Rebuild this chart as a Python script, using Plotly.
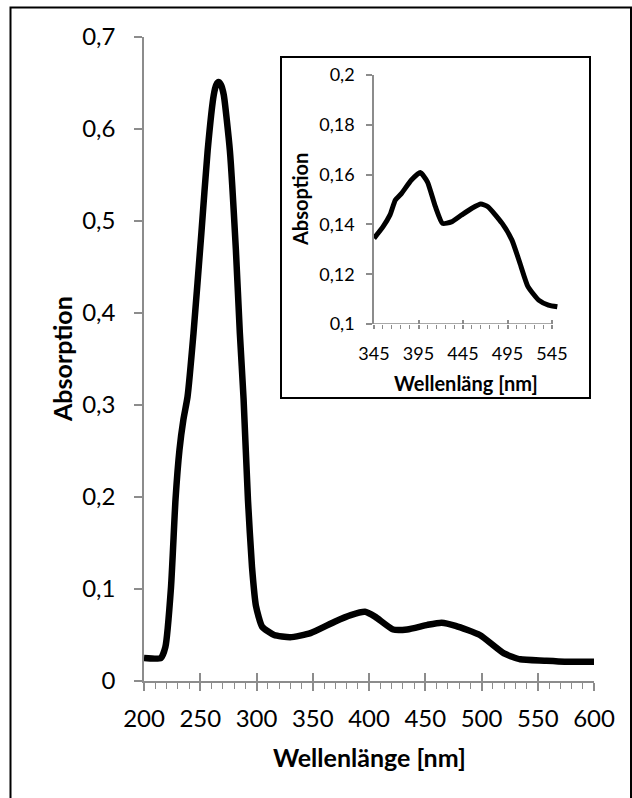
import plotly.graph_objects as go

# UV-Vis spectrum (full range)
wavelength = [200, 215, 219, 224, 228, 231.5, 235, 238.7, 244, 251, 256.6, 262, 264.2, 266.2,
              268.4, 270.9, 276.3, 281.7, 285.2, 288.5, 292.4, 296, 299.6, 305, 315.7, 330,
              348, 369.5, 383.8, 396.4, 405.3, 421.4, 434, 451.9, 464.5, 477, 498.5,
              520, 534.4, 555.9, 573.8, 600]
absorption = [0.025, 0.025, 0.037, 0.102, 0.197, 0.251, 0.284, 0.309, 0.378, 0.487, 0.577,
              0.637, 0.648, 0.651, 0.648, 0.637, 0.577, 0.468, 0.378, 0.307, 0.197, 0.124,
              0.081, 0.059, 0.050, 0.0475, 0.052, 0.0645, 0.0717, 0.0753, 0.070, 0.056,
              0.056, 0.061, 0.0634, 0.060, 0.050, 0.030, 0.0236, 0.0221, 0.021, 0.021]

# Visible region, separate measurement (inset)
inset_nm = [345, 355, 363, 369, 376, 387, 397, 405, 414, 422, 432, 443.5, 455, 465, 473,
            489, 500, 509, 518, 530, 541, 551]
inset_abs = [0.1344, 0.139, 0.1438, 0.1498, 0.1525, 0.1578, 0.1608, 0.1571, 0.1471, 0.1404,
             0.141, 0.1438, 0.1465, 0.1482, 0.1471, 0.1404, 0.1337, 0.1244, 0.115, 0.1096,
             0.1076, 0.1069]

main_y_ticks = [0, 0.1, 0.2, 0.3, 0.4, 0.5, 0.6, 0.7]
main_y_labels = ["0", "0,1", "0,2", "0,3", "0,4", "0,5", "0,6", "0,7"]
inset_y_ticks = [0.1, 0.12, 0.14, 0.16, 0.18, 0.2]
inset_y_labels = ["0,1", "0,12", "0,14", "0,16", "0,18", "0,2"]

W, H = 632, 798
AXIS = "#8c8c8c"
FONT = "Lato, Calibri, sans-serif"


def fx(p):
    return p / W


def fy(p):
    return 1 - p / H


fig = go.Figure()
fig.add_trace(go.Scatter(x=wavelength, y=absorption, mode="lines",
                         line=dict(color="black", width=6.5, shape="spline", smoothing=0.5),
                         xaxis="x", yaxis="y", showlegend=False, hoverinfo="skip"))
fig.add_trace(go.Scatter(x=inset_nm, y=inset_abs, mode="lines",
                         line=dict(color="black", width=5, shape="spline", smoothing=0.5),
                         xaxis="x2", yaxis="y2", showlegend=False, hoverinfo="skip"))
# carriers for the tick-only overlay axes
fig.add_trace(go.Scatter(x=[], y=[], xaxis="x3", yaxis="y", showlegend=False, hoverinfo="skip"))
fig.add_trace(go.Scatter(x=[], y=[], xaxis="x4", yaxis="y2", showlegend=False, hoverinfo="skip"))

main_x_range = [200, 600]
inset_x_range = [345, 553]
inset_px_per_nm = 0.89

common = dict(showgrid=False, zeroline=False, color="black", automargin=False)

fig.update_layout(
    width=W, height=H,
    margin=dict(l=0, r=0, t=0, b=0, autoexpand=False),
    paper_bgcolor="white", plot_bgcolor="rgba(0,0,0,0)",
    font=dict(family=FONT, color="black"),
    showlegend=False,
    xaxis=dict(domain=[fx(144), fx(594)], range=main_x_range, anchor="y",
               showline=True, linecolor=AXIS, linewidth=1.5,
               tickmode="linear", tick0=200, dtick=50,
               ticks="outside", ticklen=8, tickwidth=1.5, tickcolor=AXIS,
               minor=dict(ticks="outside", ticklen=6, tick0=200, dtick=10,
                          tickwidth=1.2, tickcolor=AXIS, showgrid=False),
               tickfont=dict(size=24), ticklabelstandoff=7, **common),
    yaxis=dict(domain=[fy(681), fy(37)], range=[0, 0.7], anchor="x",
               showline=True, linecolor=AXIS, linewidth=1.5,
               tickmode="array", tickvals=main_y_ticks, ticktext=main_y_labels,
               ticks="outside", ticklen=8, tickwidth=1.5, tickcolor=AXIS,
               tickfont=dict(size=24), ticklabelstandoff=14, **common),
    xaxis3=dict(overlaying="x", anchor="y", range=main_x_range,
                tickmode="linear", tick0=200, dtick=50,
                ticks="inside", ticklen=8, tickwidth=1.5, tickcolor=AXIS,
                showticklabels=False, showline=False, **common),
    xaxis2=dict(domain=[fx(374), fx(374 + (inset_x_range[1] - inset_x_range[0]) * inset_px_per_nm)],
                range=inset_x_range, anchor="y2", showline=False,
                tickmode="linear", tick0=345, dtick=50,
                ticks="outside", ticklen=4, tickwidth=1.5, tickcolor=AXIS,
                minor=dict(ticks="outside", ticklen=4, tick0=345, dtick=10,
                           tickwidth=1.2, tickcolor=AXIS, showgrid=False),
                tickfont=dict(size=18), ticklabelstandoff=9, **common),
    yaxis2=dict(domain=[fy(324), fy(75)], range=[0.1, 0.2], anchor="x2",
                showline=True, linecolor=AXIS, linewidth=1.5,
                tickmode="array", tickvals=inset_y_ticks, ticktext=inset_y_labels,
                ticks="outside", ticklen=6, tickwidth=1.5, tickcolor=AXIS,
                tickfont=dict(size=18), ticklabelstandoff=8, **common),
    xaxis4=dict(overlaying="x2", anchor="y2", range=inset_x_range,
                tickmode="linear", tick0=345, dtick=50,
                ticks="inside", ticklen=4, tickwidth=1.5, tickcolor=AXIS,
                showticklabels=False, showline=False, **common),
)

# inset x-axis baseline ends at the last labelled tick
fig.add_shape(type="line", xref="x2", yref="y2", x0=345, x1=545, y0=0.1, y1=0.1,
              line=dict(color=AXIS, width=1.5))

# chart frame and inset frame
fig.add_shape(type="rect", xref="paper", yref="paper",
              x0=fx(10.5), x1=fx(631), y0=fy(830), y1=fy(7.5),
              line=dict(color="black", width=2), layer="below")
fig.add_shape(type="rect", xref="paper", yref="paper",
              x0=fx(281), x1=fx(590), y0=fy(398), y1=fy(57),
              line=dict(color="black", width=2), fillcolor="white", layer="below")

bold = dict(family=FONT, color="black", weight="bold")
fig.add_annotation(text="Absorption", x=fx(62), y=fy(359), xref="paper", yref="paper",
                   textangle=-90, showarrow=False, xanchor="center", yanchor="middle",
                   font=dict(size=25, **bold))
fig.add_annotation(text="Wellenlänge [nm]", x=fx(369), y=fy(757), xref="paper", yref="paper",
                   showarrow=False, xanchor="center", yanchor="middle",
                   font=dict(size=25, **bold))
fig.add_annotation(text="Absoption", x=fx(300), y=fy(200), xref="paper", yref="paper",
                   textangle=-90, showarrow=False, xanchor="center", yanchor="middle",
                   font=dict(size=20, **bold))
fig.add_annotation(text="Wellenläng [nm]", x=fx(466), y=fy(383), xref="paper", yref="paper",
                   showarrow=False, xanchor="center", yanchor="middle",
                   font=dict(size=20, **bold))

fig.write_html("out.html")
